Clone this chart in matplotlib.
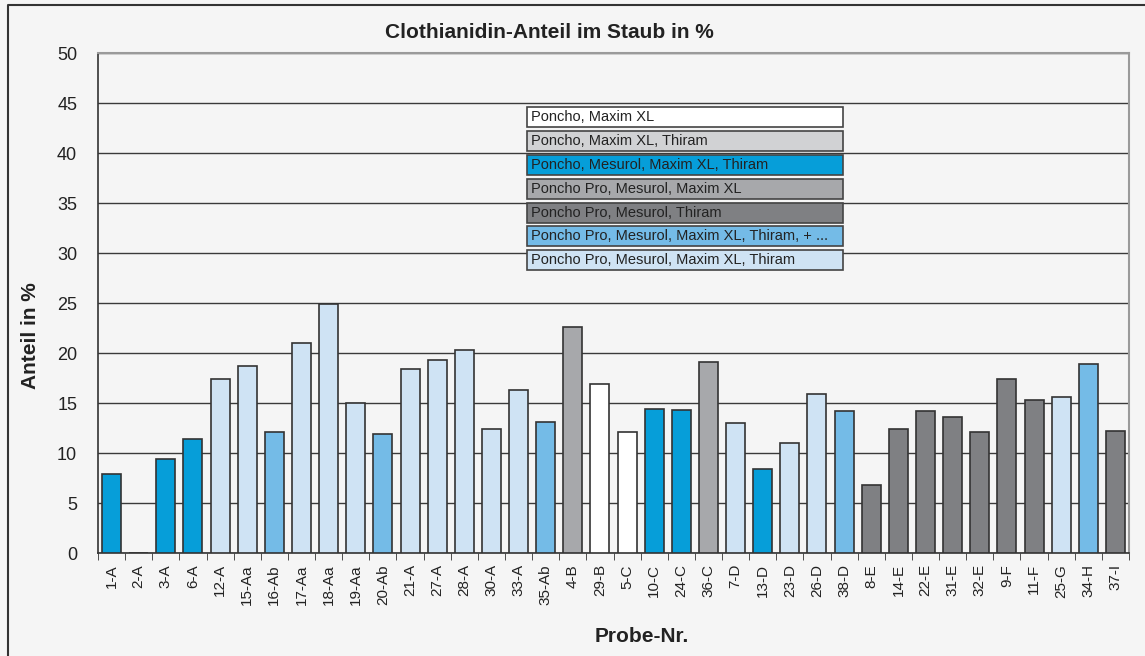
import matplotlib
matplotlib.use("Agg")
import matplotlib.pyplot as plt
from matplotlib.patches import Rectangle
from matplotlib.lines import Line2D

plt.rcParams['font.family'] = ['Liberation Sans', 'DejaVu Sans']

# data
proben = ["1-A", "2-A", "3-A", "6-A", "12-A", "15-Aa", "16-Ab", "17-Aa", "18-Aa", "19-Aa",
          "20-Ab", "21-A", "27-A", "28-A", "30-A", "33-A", "35-Ab", "4-B", "29-B", "5-C",
          "10-C", "24-C", "36-C", "7-D", "13-D", "23-D", "26-D", "38-D", "8-E", "14-E",
          "22-E", "31-E", "32-E", "9-F", "11-F", "25-G", "34-H", "37-I"]
anteil = [7.9, 0, 9.4, 11.4, 17.4, 18.7, 12.1, 21.0, 24.9, 15.0,
          11.9, 18.4, 19.3, 20.3, 12.4, 16.3, 13.1, 22.6, 16.9, 12.1,
          14.4, 14.3, 19.1, 13.0, 8.4, 11.0, 15.9, 14.2, 6.8, 12.4,
          14.2, 13.6, 12.1, 17.4, 15.3, 15.6, 18.9, 12.2]
# index into beizen for each probe
gruppe = [2, 2, 2, 2, 6, 6, 5, 6, 6, 6,
          5, 6, 6, 6, 6, 6, 5, 3, 0, 0,
          2, 2, 3, 6, 2, 6, 6, 5, 4, 4,
          4, 4, 4, 4, 4, 6, 5, 4]
beizen = ["Poncho, Maxim XL",
          "Poncho, Maxim XL, Thiram",
          "Poncho, Mesurol, Maxim XL, Thiram",
          "Poncho Pro, Mesurol, Maxim XL",
          "Poncho Pro, Mesurol, Thiram",
          "Poncho Pro, Mesurol, Maxim XL, Thiram, + ...",
          "Poncho Pro, Mesurol, Maxim XL, Thiram"]
farben = ["#ffffff", "#d1d2d4", "#069ed9", "#a7a8ab", "#7f8083", "#74bbe7", "#cfe3f4"]

W, H = 1145, 656
fig = plt.figure(figsize=(W / 100, H / 100), dpi=100, facecolor="#f5f5f5")
ax = fig.add_axes([98 / W, (H - 553) / H, (1129 - 98) / W, 500 / H])
ax.set_facecolor("#f5f5f5")

x = list(range(len(proben)))
ax.bar(x, anteil, width=0.7, color=[farben[g] for g in gruppe],
       edgecolor="#333333", linewidth=1.2, zorder=3)

ax.set_xlim(-0.5, len(proben) - 0.5)
ax.set_ylim(0, 50)
ax.set_yticks(range(0, 51, 5))
ax.yaxis.grid(True, color="#3a3a3a", linewidth=1)
ax.set_axisbelow(True)
ax.tick_params(axis="y", length=0, pad=15, labelsize=13, labelcolor="#222222")
ax.set_xticks(x)
ax.set_xticklabels(proben, rotation=90, fontsize=11, color="#222222")
ax.set_xticks([i - 0.5 for i in range(len(proben) + 1)], minor=True)
ax.tick_params(axis="x", which="major", length=0, pad=8)
ax.tick_params(axis="x", which="minor", length=5, direction="out", color="#333333")

for s in ["left", "bottom"]:
    ax.spines[s].set_color("#333333")
    ax.spines[s].set_linewidth(1.2)
for s in ["top", "right"]:
    ax.spines[s].set_color("#9a9a9a")
    ax.spines[s].set_linewidth(1.5)

fig.text(549 / W, 1 - 33 / H, "Clothianidin-Anteil im Staub in %", fontsize=15,
         fontweight="bold", color="#222222", ha="center", va="center")
fig.text(31 / W, 1 - 336 / H, "Anteil in %", fontsize=15, fontweight="bold",
         color="#222222", ha="center", va="center", rotation=90)
fig.text(642 / W, 1 - 636 / H, "Probe-Nr.", fontsize=15, fontweight="bold",
         color="#222222", ha="center", va="center")

# legend as stacked boxes
tops = [107, 131, 155, 179, 203, 226, 250]
for i, (name, c) in enumerate(zip(beizen, farben)):
    y0 = tops[i]
    fig.patches.append(Rectangle((527 / W, (H - y0 - 20) / H), 316 / W, 20 / H,
                                 transform=fig.transFigure, facecolor=c,
                                 edgecolor="#444444", linewidth=1.2, zorder=5))
    fig.text(531 / W, (H - y0 - 10) / H, name, fontsize=10.5, color="#222222",
             va="center", ha="left", zorder=6)

# outer frame
fig.add_artist(Line2D([8 / W, 8 / W, 1], [0, 1 - 5 / H, 1 - 5 / H],
                      transform=fig.transFigure, color="#333333", linewidth=1.5))

fig.savefig("out.png", dpi=100, facecolor=fig.get_facecolor())
